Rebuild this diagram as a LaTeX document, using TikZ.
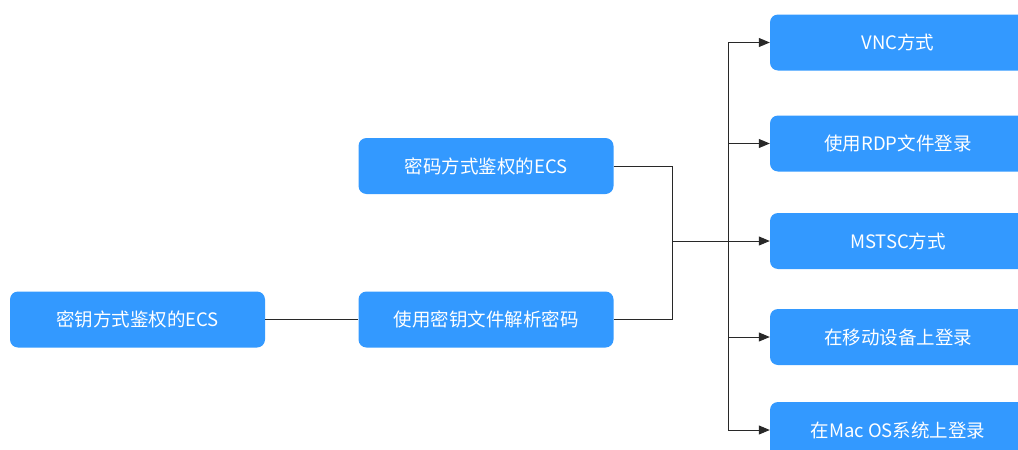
\documentclass[tikz,border=0pt]{standalone}
\usepackage{fontspec}
\usepackage{xcolor}
\usepackage{tikz}
\usetikzlibrary{arrows.meta}
\setmainfont{Noto Sans CJK SC}
\definecolor{boxblue}{RGB}{51,153,255}
\definecolor{linegray}{RGB}{40,40,40}
\tikzset{
  ecsbox/.style={draw=none, fill=boxblue, rounded corners=8pt, text=white,
    minimum width=255pt, minimum height=56pt, inner sep=0pt,
    font=\fontsize{18.5}{22}\selectfont},
  link/.style={draw=linegray, line width=1pt},
  arr/.style={link, -{Triangle[length=11pt,width=9pt]}}
}
\begin{document}
\begin{tikzpicture}[x=1pt,y=1pt]
        \useasboundingbox (0,0) rectangle (1018,-450);
        \node[ecsbox] (key) at (137.5,-319.5) {密钥方式鉴权的ECS};
        \node[ecsbox] (pwd) at (486,-166) {密码方式鉴权的ECS};
        \node[ecsbox] (decode) at (486,-319.5) {使用密钥文件解析密码};
        \node[ecsbox, minimum width=256pt] (vnc) at (898,-42.5) {VNC方式};
        \node[ecsbox, minimum width=256pt] (rdp) at (898,-143.5) {使用RDP文件登录};
        \node[ecsbox, minimum width=256pt] (mstsc) at (898,-241) {MSTSC方式};
        \node[ecsbox, minimum width=256pt] (mobile) at (898,-337) {在移动设备上登录};
        \node[ecsbox, minimum width=256pt] (mac) at (898,-430) {在Mac OS系统上登录};
        \coordinate (merge) at (672,-241);
        \coordinate (trunk) at (728,-241);
        \draw[link] (key.east) -- (decode.west);
        \draw[link] (pwd.east) -| (merge);
        \draw[link] (decode.east) -| (merge);
        \draw[link] (merge) -- (trunk);
        \draw[arr] (trunk) |- (vnc.west);
        \draw[arr] (trunk) |- (rdp.west);
        \draw[arr] (trunk) -- (mstsc.west);
        \draw[arr] (trunk) |- (mobile.west);
        \draw[arr] (trunk) |- (mac.west);
    \end{tikzpicture}
\end{document}
